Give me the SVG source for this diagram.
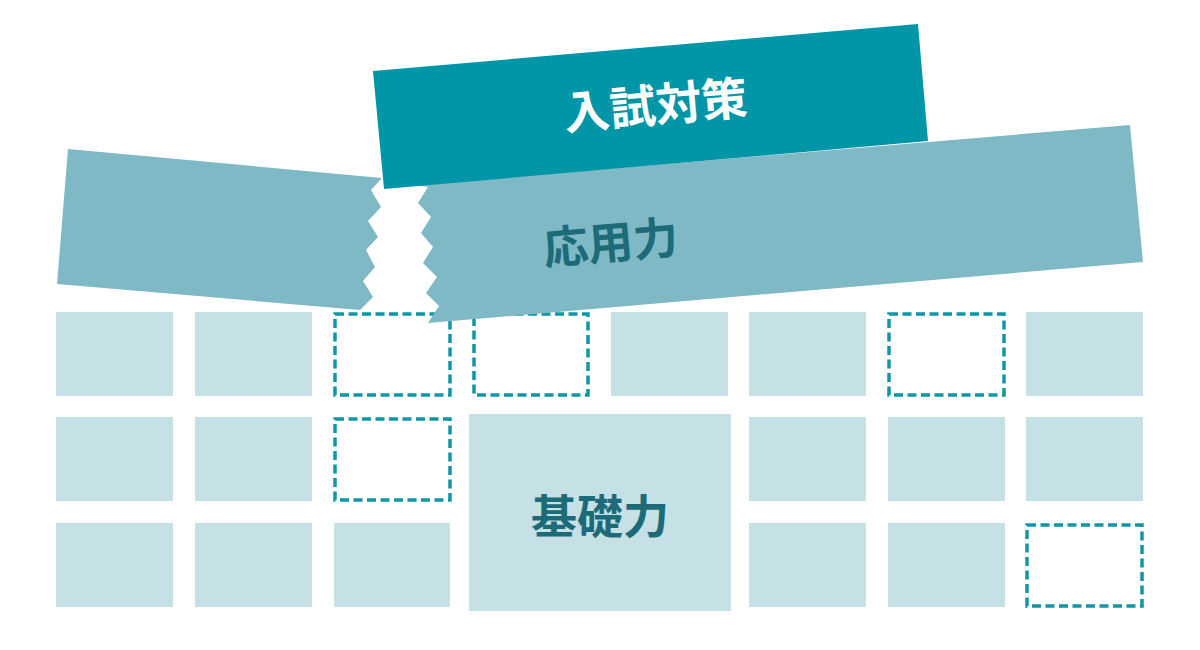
<svg xmlns="http://www.w3.org/2000/svg" width="1200" height="650" viewBox="0 0 1200 650">
<style>
.cell{fill:#c6e1e6}
.dash{fill:none;stroke:#1096a6;stroke-width:3.5;stroke-dasharray:9 4.5}
.band{fill:#80b9c6}
.top{fill:#0195a8}
.lbl{font-family:"Noto Sans CJK JP","Noto Sans CJK SC",sans-serif;font-weight:700;text-anchor:middle}
</style>
<rect width="1200" height="650" fill="#ffffff"/>
<g id="grid">
<rect class="cell" x="56" y="312" width="117" height="84"/>
<rect class="cell" x="195" y="312" width="117" height="84"/>
<rect class="dash" x="335" y="314" width="115" height="81"/>
<rect class="dash" x="474" y="314" width="114" height="81"/>
<rect class="cell" x="611" y="312" width="117" height="84"/>
<rect class="cell" x="749" y="312" width="117" height="84"/>
<rect class="dash" x="889" y="314" width="115" height="81"/>
<rect class="cell" x="1026" y="312" width="117" height="84"/>
<rect class="cell" x="56" y="417" width="117" height="84"/>
<rect class="cell" x="195" y="417" width="117" height="84"/>
<rect class="dash" x="335" y="419" width="115" height="81"/>
<rect class="cell" x="749" y="417" width="117" height="84"/>
<rect class="cell" x="888" y="417" width="117" height="84"/>
<rect class="cell" x="1026" y="417" width="117" height="84"/>
<rect class="cell" x="56" y="523" width="117" height="84"/>
<rect class="cell" x="195" y="523" width="117" height="84"/>
<rect class="cell" x="334" y="523" width="116" height="84"/>
<rect class="cell" x="749" y="523" width="117" height="84"/>
<rect class="cell" x="888" y="523" width="117" height="84"/>
<rect class="dash" x="1027" y="525" width="115" height="81"/>
</g>
<g id="kiso">
<rect class="cell" x="469" y="414" width="262" height="197"/>
<text class="lbl" x="600" y="533" font-size="46" fill="#1d6a78">基礎力</text>
</g>
<g id="ouyou">
<polygon class="band" points="68,149 382,178 371,190 381,207 368,221 378,237 366,250 375,267 363,281 373,297 360,310 57,284"/>
<polygon class="band" points="416,185 1130,125 1143,262 428,323 439,306 426,293 437,277 423,263 433,247 421,233 431,217 418,203 428,187"/>
<text class="lbl" transform="translate(612,259) rotate(-5)" x="0" y="0" font-size="45" fill="#1d6a78">応用力</text>
</g>
<g id="nyushi">
<polygon class="top" points="373,71 918,24 928,141 384,189"/>
<text class="lbl" transform="translate(657,122) rotate(-5)" x="0" y="0" font-size="46" fill="#ffffff">入試対策</text>
</g>
</svg>
